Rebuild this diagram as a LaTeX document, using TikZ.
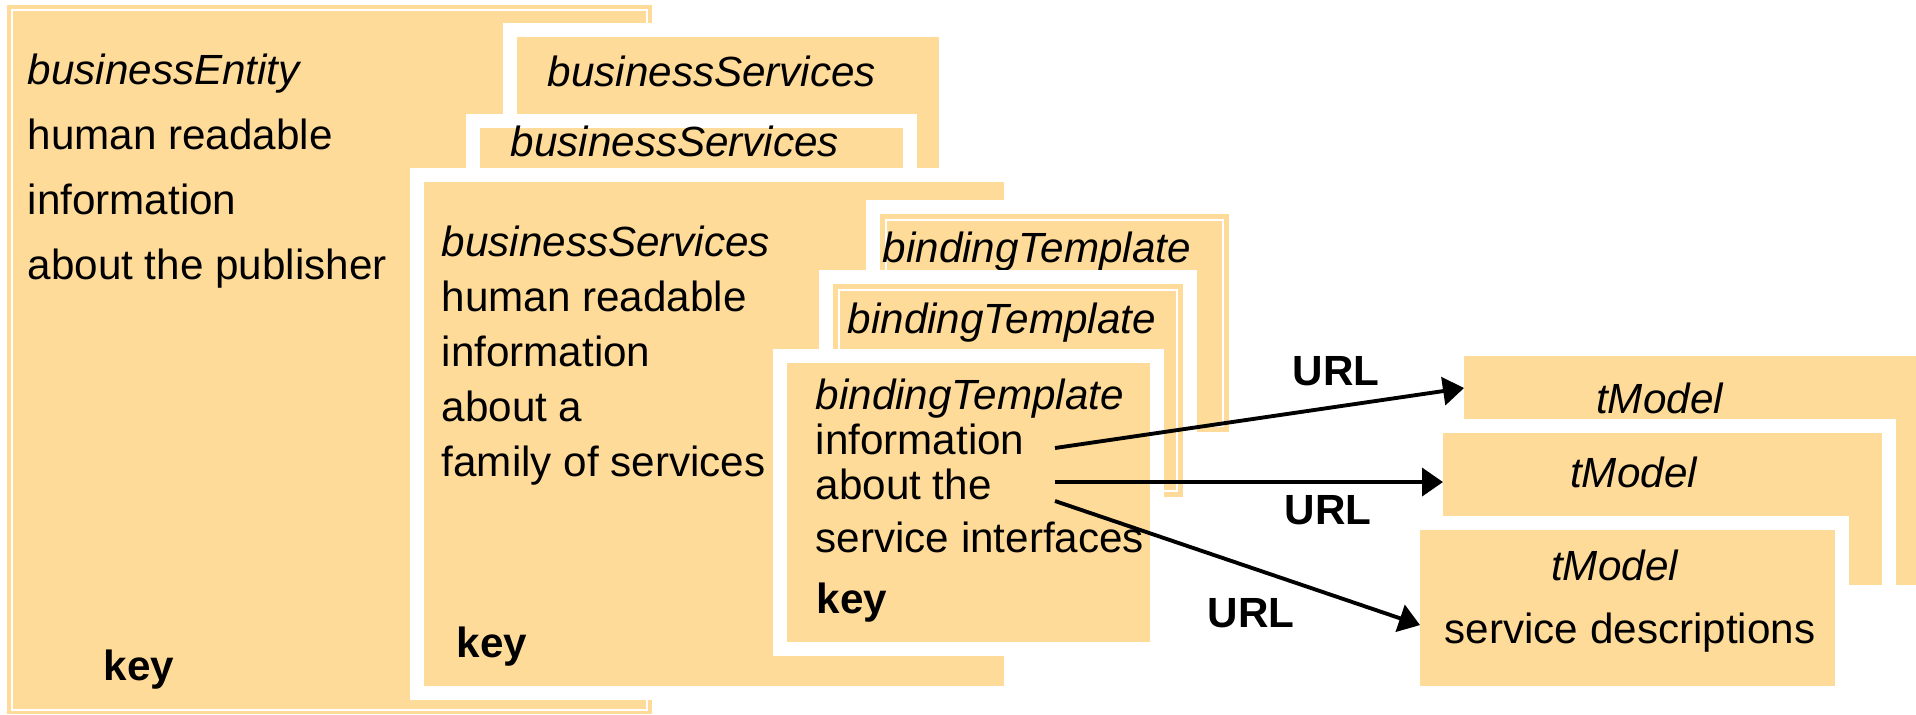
\documentclass[tikz,border=0pt]{standalone}
\usepackage{fontspec}
\setmainfont{Liberation Sans}
\usetikzlibrary{arrows.meta,fit}
\definecolor{peach}{HTML}{FFDB99}
\tikzset{
  every picture/.style={line join=round, >=Stealth},
  page/.style={fill=peach, inner sep=0pt, outer sep=0pt},
  card/.style={page, preaction={draw=white, line join=miter, line width=0.28cm}},
  rim/.style={draw=white, line join=miter, line width=0.6pt},
  lines/.style={inner sep=0pt, anchor=base west, align=left, font=\fontsize{12}{#1}\selectfont},
  keytxt/.style={inner sep=0pt, anchor=base west, font=\fontsize{12}{14}\selectfont\bfseries},
  midtxt/.style={inner sep=0pt, anchor=base, font=\fontsize{12}{14}\selectfont},
  urltxt/.style={inner sep=0pt, font=\fontsize{12}{14}\selectfont\bfseries},
  link/.style={-{Triangle[length=0.21cm,width=0.28cm]}, line width=1.1pt},
}

\begin{document}
\begin{tikzpicture}[x=0.01cm,y=-0.01cm]
\useasboundingbox (0,0) rectangle (1916,714);
% businessEntity
\node[page, fit={(7,5) (652,714)}] (be) {};
\draw[rim] ([shift={(0.05cm,-0.05cm)}]be.north west) rectangle ([shift={(-0.05cm,0.04cm)}]be.south east);
\node[lines=18.4] (beTxt) at (27,279) {\textit{businessEntity}\\human readable\\information\\about the publisher};
\node[keytxt] (beKey) at (103,680) {key};
% businessServices
\node[card, fit={(517,37) (939,168)}] (bsA) {};
\node[lines=14] (bsATxt) at (547,86) {\textit{businessServices}};
\node[card, fit={(480,128) (903,168)}] (bsB) {};
\node[lines=14] (bsBTxt) at (510,156) {\textit{businessServices}};
\node[card, fit={(424,182) (1004,686)}] (bsC) {};
\node[lines=15.6] (bsCTxt) at (441,476) {\textit{businessServices}\\human readable\\information\\about a\\family of services};
\node[keytxt] (bsCKey) at (456,657) {key};
% bindingTemplate
\node[card, fit={(880,214) (1229,432)}] (btA) {};
\draw[rim] ([shift={(0.06cm,-0.06cm)}]btA.north west) rectangle ([shift={(-0.06cm,0.06cm)}]btA.south east);
\node[lines=14] (btATxt) at (882,262) {\textit{bindingTemplate}};
\node[card, fit={(833,284) (1183,497)}] (btB) {};
\draw[rim] ([shift={(0.06cm,-0.06cm)}]btB.north west) rectangle ([shift={(-0.06cm,0.06cm)}]btB.south east);
\node[lines=14] (btBTxt) at (847,333) {\textit{bindingTemplate}};
\node[card, fit={(787,363) (1150,642)}] (btC) {};
\node[lines=12.8] (btCTxt) at (815,552) {\textit{bindingTemplate}\\information\\about the\\[2pt]service interfaces};
\node[keytxt] (btCKey) at (816,613) {key};
% tModel
\node[card, fit={(1464,356) (1916,585)}] (tmG) {};
\node[midtxt] (tmGTxt) at (1660,413) {\textit{tModel}};
\node[card, fit={(1443,433) (1882,585)}] (tmH) {};
\node[midtxt] (tmHTxt) at (1634,487) {\textit{tModel}};
\node[card, fit={(1420,530) (1835,686)}] (tmI) {};
\node[midtxt] (tmITxt) at (1615,580) {\textit{tModel}};
\node[midtxt] (tmIDesc) at (1630,643) {service descriptions};
% URL links
\coordinate (u1) at (1055,448);
\coordinate (u2) at (1055,482);
\coordinate (u3) at (1055,501);
\draw[link] (u1) -- ([yshift=-0.32cm]tmG.north west);
\draw[link] (u2) -- ([yshift=-0.49cm]tmH.north west);
\draw[link] (u3) -- ([yshift=-0.95cm]tmI.north west);
\node[urltxt] (url1) at (1336,371) {URL};
\node[urltxt] (url2) at (1328,510) {URL};
\node[urltxt] (url3) at (1251,613) {URL};
\end{tikzpicture}
\end{document}
